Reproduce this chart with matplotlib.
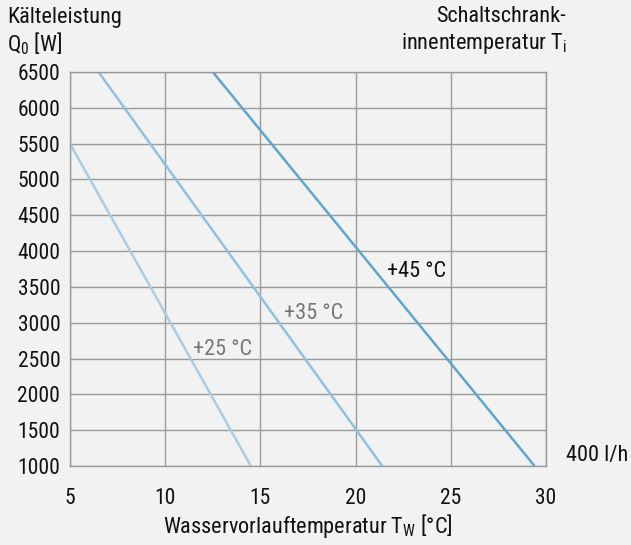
import matplotlib
matplotlib.use("Agg")
import matplotlib.pyplot as plt

plt.rcParams['font.family'] = ['Roboto Condensed', 'DejaVu Sans']
plt.rcParams['mathtext.fontset'] = 'custom'
plt.rcParams['mathtext.rm'] = 'Roboto Condensed'

# Data
x_ticks = [5, 10, 15, 20, 25, 30]
y_ticks = [1000, 1500, 2000, 2500, 3000, 3500, 4000, 4500, 5000, 5500, 6000, 6500]
series_labels = ["+25 °C", "+35 °C", "+45 °C"]
tw_25 = [5.0, 14.5]
q_25 = [5500, 1000]
tw_35 = [6.5, 21.4]
q_35 = [6500, 1000]
tw_45 = [12.5, 29.4]
q_45 = [6500, 1000]

bg = "#f2f2f2"
fs = 16
fig = plt.figure(figsize=(6.31, 5.45), dpi=100, facecolor=bg)
ax = fig.add_axes([70/631, 1-466/545, (546-70)/631, (466-72)/545], facecolor=bg)

ax.plot(tw_25, q_25, color="#a9cde6", lw=1.8, solid_capstyle="butt")
ax.plot(tw_35, q_35, color="#92c1e0", lw=1.8, solid_capstyle="butt")
ax.plot(tw_45, q_45, color="#5ea6cc", lw=1.8, solid_capstyle="butt")

ax.set_xlim(5, 30)
ax.set_ylim(1000, 6500)
ax.set_xticks(x_ticks)
ax.set_yticks(y_ticks)
ax.grid(True, color="#9a9a9a", lw=1.0)
ax.set_axisbelow(True)
for s in ax.spines.values():
    s.set_color("#9a9a9a")
    s.set_linewidth(1.0)
ax.tick_params(length=0, labelsize=15.5, colors="#111111")
ax.tick_params(axis="x", pad=16)
ax.tick_params(axis="y", pad=7)

ax.text(11.45, 2620, series_labels[0], fontsize=fs, color="#777777", va="center", ha="left")
ax.text(16.25, 3130, series_labels[1], fontsize=fs, color="#777777", va="center", ha="left")
ax.text(21.65, 3720, series_labels[2], fontsize=fs, color="#111111", va="center", ha="left")

fig.text(308/631, 1-526/545, "Wasservorlauftemperatur T$_\\mathregular{W}$ [°C]", fontsize=fs,
         color="#111111", va="center", ha="center")

fig.text(7/631, 1-17/545, "Kälteleistung", fontsize=fs, color="#111111", va="center", ha="left")
fig.text(7/631, 1-44/545, "Q$_\\mathregular{0}$ [W]", fontsize=fs, color="#111111", va="center", ha="left")
fig.text(566/631, 1-17/545, "Schaltschrank-", fontsize=fs, color="#111111", va="center", ha="right")
fig.text(567/631, 1-44/545, "innentemperatur T$_\\mathregular{i}$", fontsize=fs, color="#111111", va="center", ha="right")
fig.text(566/631, 1-456/545, "400 l/h", fontsize=fs, color="#111111", va="center", ha="left")

fig.savefig("out.png", dpi=100, facecolor=bg)
